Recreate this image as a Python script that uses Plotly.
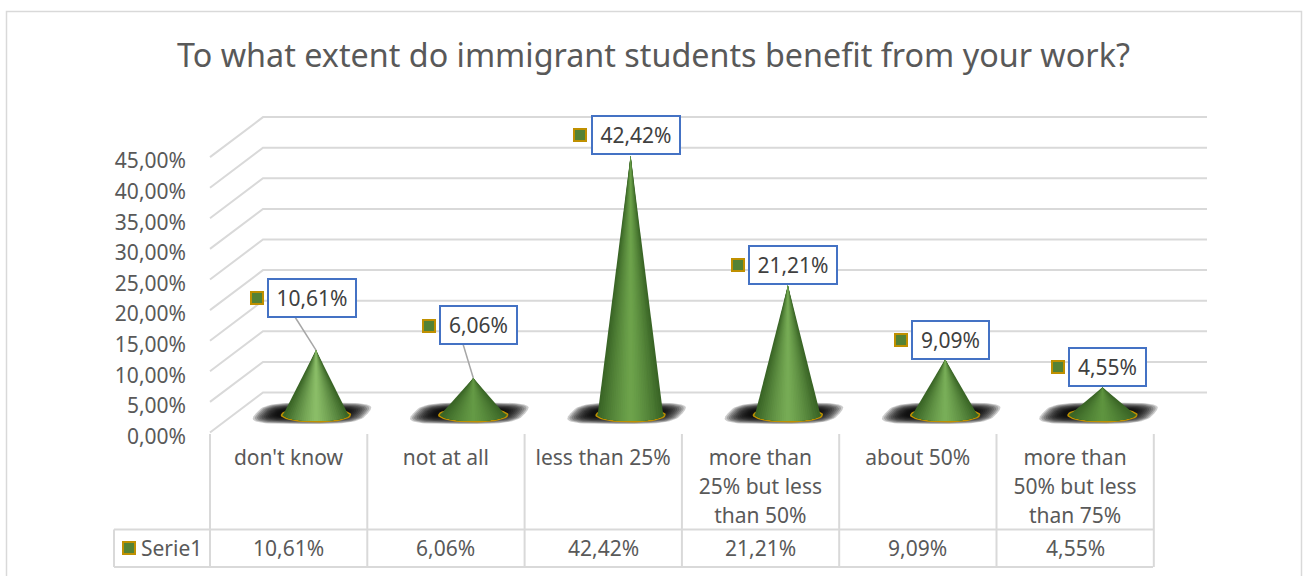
import math
import plotly.graph_objects as go

title = "To what extent do immigrant students benefit from your work?"
categories = ["don't know", "not at all", "less than 25%",
              "more than<br>25% but less<br>than 50%", "about 50%",
              "more than<br>50% but less<br>than 75%"]
values = [10.61, 6.06, 42.42, 21.21, 9.09, 4.55]
labels = ["10,61%", "6,06%", "42,42%", "21,21%", "9,09%", "4,55%"]
series_name = "Serie1"
y_ticks = [0, 5, 10, 15, 20, 25, 30, 35, 40, 45]
y_tick_labels = ["0,00%", "5,00%", "10,00%", "15,00%", "20,00%", "25,00%",
                 "30,00%", "35,00%", "40,00%", "45,00%"]

W, H = 1306, 576
FONT = "Noto Sans"
TEXT = "#595959"
GRID = "#d9d9d9"
CW = 157.3          # px per category
PY = 6.12           # px per percent
X0, Y0 = 288.5, 432.5   # pixel of category 0 centre and of 0 %


def dx(px):
    return (px - X0) / CW


def dy(py):
    return (Y0 - py) / PY


def rgb(c):
    return tuple(int(c[i:i + 2], 16) for i in (1, 3, 5))


def mix(a, b, t):
    a, b = rgb(a), rgb(b)
    return "rgb(%d,%d,%d)" % tuple(round(a[i] + (b[i] - a[i]) * t) for i in range(3))


fig = go.Figure()


def poly(xs, ys, color):
    fig.add_trace(go.Scatter(x=xs, y=ys, mode="lines", fill="toself", fillcolor=color,
                             line=dict(width=0, color=color),
                             hoverinfo="skip", showlegend=False))


def line(xs, ys, color=GRID, width=2):
    fig.add_trace(go.Scatter(x=xs, y=ys, mode="lines", line=dict(color=color, width=width),
                             hoverinfo="skip", showlegend=False))


# skewed gridlines of the 3-D walls
DX, DY = 53, 40
for v in y_ticks:
    line([dx(210), dx(210 + DX), dx(1207)],
         [v, v + DY / PY, v + DY / PY])

# table
for i in range(7):
    line([dx(210 + i * CW)] * 2, [dy(434), dy(567)])
line([dx(114), dx(1153)], [dy(529.5)] * 2)
line([dx(114), dx(1153)], [dy(567)] * 2)
line([dx(114)] * 2, [dy(529.5), dy(567)])

highlights = ["#8cbf69", "#659b46", "#6ea44c", "#78ad56", "#7ab059", "#5f9540"]
edge_dark = "#3a6526"
for i, v in enumerate(values):
    cx = X0 + i * CW + 27.5
    by = 415.0
    # blurred shadow on the floor: stacked, shrinking skewed super-ellipses
    for layer in range(12):
        sc = 1 - layer * 0.035
        xs, ys = [], []
        for k in range(61):
            t = 2 * math.pi * k / 60
            c, s = math.cos(t), math.sin(t)
            ex = 56 * sc * math.copysign(abs(c) ** 0.55, c)
            ey = 10.8 * (1 - layer * 0.055) * math.copysign(abs(s) ** 0.55, s)
            xs.append(dx(cx - 4 + ex - ey * 0.85))
            ys.append(dy(413.2 + ey))
        poly(xs, ys, "rgba(0,0,0,0.2)")
    # gold ring
    n = 48
    ex = [dx(cx + 34.5 * math.cos(2 * math.pi * k / n)) for k in range(n + 1)]
    ey = [dy(by + 6.8 * math.sin(2 * math.pi * k / n)) for k in range(n + 1)]
    fig.add_trace(go.Scatter(x=ex, y=ey, mode="lines", fill="toself", fillcolor="#3e6b27",
                             line=dict(color="#bf9000", width=1.5),
                             hoverinfo="skip", showlegend=False))
    # cone: nested fans from the outside in, so no seams show between slices
    R, r = 33, 6
    tip_y = v + dy(by)
    steps = 16
    for k in range(steps):
        f = 1 - k / steps                 # half-width fraction of this fan
        col = mix(highlights[i], edge_dark, f ** 1.3)
        a = [math.pi * j / 24 for j in range(25)]
        a = [t for t in a if abs(math.cos(t)) <= f] or [math.pi / 2]
        a0 = math.acos(f)
        ang = [a0] + [t for t in a if a0 < t < math.pi - a0] + [math.pi - a0]
        xs = [dx(cx)] + [dx(cx + R * math.cos(t)) for t in ang] + [dx(cx)]
        ys = [tip_y] + [dy(by + r * math.sin(t)) for t in ang] + [tip_y]
        poly(xs, ys, col)

# leader lines of the two labels moved away from their cones
leader_from = {0: (295, 317), 1: (463, 344)}
for i, (lx, ly) in leader_from.items():
    cx = X0 + i * CW + 27.5
    line([dx(lx), dx(cx)], [dy(ly), values[i] + dy(415)], color="#a6a6a6", width=1.5)

# legend keys beside the labels, and in the table
key_x = [257, 429, 580, 738, 901, 1058, 129]
key_y = [298, 326, 135, 265, 340, 367, 548]
fig.add_trace(go.Scatter(x=[dx(p) for p in key_x], y=[dy(p) for p in key_y], mode="markers",
                         marker=dict(symbol="square", size=12, color="#548235",
                                     line=dict(color="#bf9000", width=2)),
                         hoverinfo="skip", showlegend=False))

# data labels
box_center = [(312, 298), (478.5, 325), (636, 135), (793, 265), (950.5, 340), (1107.5, 367)]
box_w = [86, 75, 86, 86, 75, 75]
for i, lab in enumerate(labels):
    fig.add_annotation(x=dx(box_center[i][0]), y=dy(box_center[i][1]), text=lab, showarrow=False,
                       font=dict(family=FONT, size=21, color="#404040"),
                       bgcolor="#ffffff", bordercolor="#4472c4", borderwidth=2, borderpad=0,
                       width=box_w[i], height=36, align="center", valign="middle")

# table text
for i, lab in enumerate(labels):
    fig.add_annotation(x=i, y=dy(548), text=lab, showarrow=False,
                       font=dict(family=FONT, size=21, color=TEXT))
fig.add_annotation(x=dx(171.5), y=dy(548), text=series_name, showarrow=False,
                   font=dict(family=FONT, size=21, color=TEXT))

xr = [dx(0), dx(W)]
yr = [dy(H), dy(0)]
# outer size sets the 29 px line pitch of the wrapped labels, inner span the glyph size
wrapped = ['<span style="font-size:21px">%s</span>' % c for c in categories]
fig.update_layout(
    width=W, height=H, autosize=False, margin=dict(l=0, r=0, t=0, b=0),
    paper_bgcolor="#ffffff", plot_bgcolor="#ffffff", showlegend=False,
    title=dict(text=title, x=653.5 / W, xanchor="center", y=1 - 56 / H, yanchor="middle",
               font=dict(family=FONT, size=32.3, color=TEXT)),
    xaxis=dict(range=xr, tickmode="array", tickvals=list(range(6)), ticktext=wrapped,
               showgrid=False, zeroline=False, showline=False, ticks="outside", ticklen=5,
               tickcolor="rgba(0,0,0,0)", anchor="free", position=1 - Y0 / H,
               tickfont=dict(family=FONT, size=22.3, color=TEXT), tickangle=0, fixedrange=True),
    yaxis=dict(range=yr, tickmode="array", tickvals=y_ticks, ticktext=y_tick_labels,
               showgrid=False, zeroline=False, showline=False, ticks="",
               anchor="free", position=210 / W, ticklabelstandoff=24, ticklabelshift=4,
               tickfont=dict(family=FONT, size=21, color=TEXT), fixedrange=True),
    shapes=[dict(type="rect", xref="paper", yref="paper", x0=6.5 / W, x1=1301.5 / W,
                 y0=-0.05, y1=1 - 11.5 / H, line=dict(color="#d9d9d9", width=1.5), layer="below")],
)
fig.write_html("out.html", config=dict(displayModeBar=False),
               post_script="document.body.style.margin='0';document.documentElement.style.overflow='hidden';")
